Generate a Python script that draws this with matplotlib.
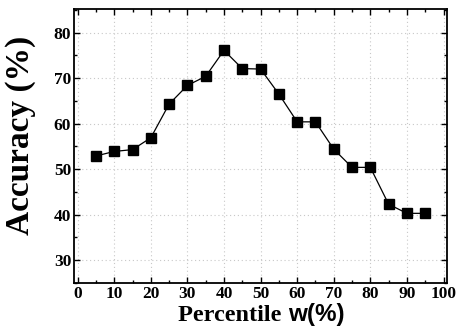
import matplotlib
matplotlib.use('Agg')
import matplotlib.pyplot as plt
from matplotlib.ticker import MultipleLocator

# data
percentile = [5, 10, 15, 20, 25, 30, 35, 40, 45, 50, 55, 60, 65, 70, 75, 80, 85, 90, 95]
accuracy = [52.9, 53.9, 54.3, 56.9, 64.3, 68.4, 70.4, 76.1, 72.1, 72.0, 66.5, 60.4,
            60.4, 54.4, 50.4, 50.4, 42.3, 40.3, 40.3]
xticks = [0, 10, 20, 30, 40, 50, 60, 70, 80, 90, 100]
yticks = [30, 40, 50, 60, 70, 80]

plt.rcParams['font.family'] = 'Liberation Serif'
plt.rcParams['font.weight'] = 'bold'

fig = plt.figure(figsize=(4.61, 3.27), dpi=100)
ax = fig.add_axes([0.1605, 0.1346, 0.8095, 0.838])

ax.plot(percentile, accuracy, color='black', lw=0.9, marker='s', ms=7.8,
        markerfacecolor='black', markeredgecolor='black')

ax.set_xlim(-1, 101)
ax.set_ylim(25, 85.2)
ax.set_xticks(xticks)
ax.set_yticks(yticks)
ax.xaxis.set_minor_locator(MultipleLocator(5))
ax.yaxis.set_minor_locator(MultipleLocator(5))
ax.tick_params(which='both', direction='in', top=True, right=True, width=1)
ax.tick_params(which='major', length=4, labelsize=12.5, pad=2)
ax.tick_params(which='minor', length=2.5)
for lab in ax.get_xticklabels() + ax.get_yticklabels():
    lab.set_fontweight('bold')

ax.grid(True, which='major', color='#c8c8c8', linestyle=(0, (1, 2.5)), lw=0.8)

for s in ax.spines.values():
    s.set_linewidth(1.3)

# y label
ax.set_ylabel('Accuracy (%)', fontsize=24, fontweight='bold')
ax.yaxis.set_label_coords(-0.102, 0.54)

# x label with mixed fonts
t1 = ax.text(0.279, -0.137, 'Percentile ', transform=ax.transAxes, fontsize=17.5,
             fontweight='bold', ha='left', va='baseline')
ax.annotate('w(%)', xy=(1, 0), xycoords=t1, va='bottom', ha='left',
            fontsize=17.5, fontweight='bold', family='Liberation Sans')

plt.savefig('out.png', dpi=100)
